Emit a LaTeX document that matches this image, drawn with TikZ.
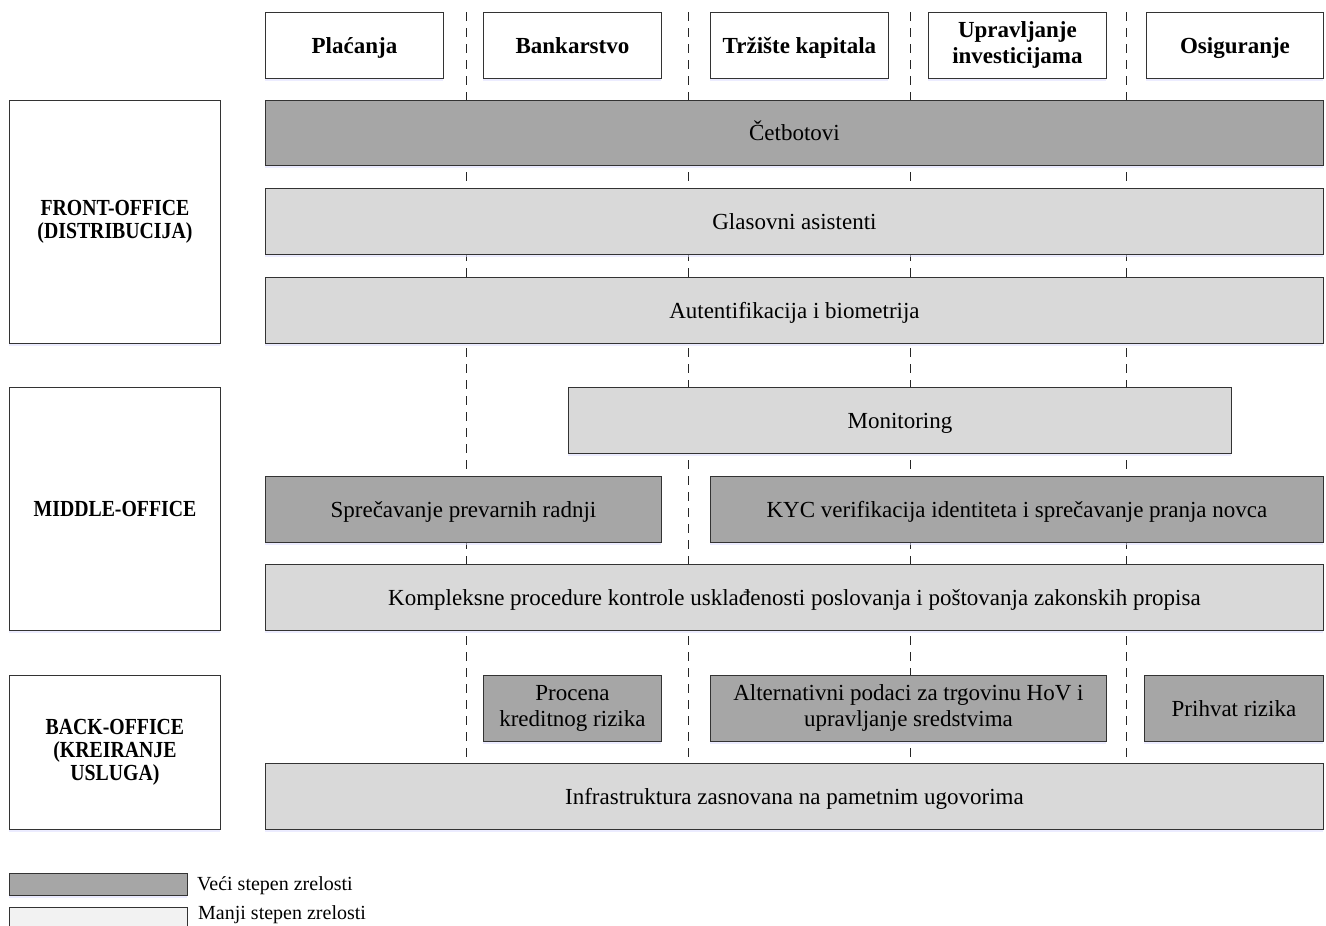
\documentclass[tikz,border=0pt]{standalone}
\usepackage{fontspec}
\setmainfont{Liberation Serif}
\newfontfamily\condserif[FakeStretch=0.86]{Liberation Serif}
\usetikzlibrary{shadows}
\begin{document}
\begin{tikzpicture}[x=1pt,y=-1pt,
  box/.style={draw=black!80,line width=0.9pt,inner sep=0pt,align=center,
    anchor=north west,font=\fontsize{23}{26}\selectfont,
    drop shadow={shadow xshift=0pt,shadow yshift=-2.5pt,fill=blue!12!white,opacity=0.6}},
  one/.style={text height=15.2pt,text depth=0pt},
  dark/.style={box,fill=darkfill},
  light/.style={box,fill=lightfill},
  head/.style={box,fill=white,font=\fontsize{23}{26}\selectfont\bfseries},
  rowlabel/.style={box,fill=white,font=\fontsize{23}{23}\selectfont\condserif\bfseries},
  legendtext/.style={anchor=west,inner sep=0pt,font=\fontsize{20}{22}\selectfont},
  sep/.style={draw=black!85,line width=1pt,dash pattern=on 9pt off 7pt}]
\definecolor{darkfill}{HTML}{A6A6A6}
\definecolor{lightfill}{HTML}{D9D9D9}
\definecolor{legendlight}{HTML}{F2F2F2}
\useasboundingbox (0,0) rectangle (1326,926);
% column separators
\foreach \x/\n in {466/a,688/b,910/c,1126/d}{
  \coordinate (t\n) at (\x,12);
  \coordinate (b\n) at (\x,763);
  \draw[sep] (t\n) -- (b\n);
}
% column headers
\node[head,one,minimum width=178pt,minimum height=66pt] (h1) at (265,12) {Plaćanja};
\node[head,one,minimum width=178pt,minimum height=66pt] (h2) at (483,12) {Bankarstvo};
\node[head,one,minimum width=178pt,minimum height=66pt] (h3) at (710,12) {Tržište kapitala};
\node[head,minimum width=178pt,minimum height=66pt] (h4) at (928,12) {Upravljanje\\investicijama};
\node[head,one,minimum width=177pt,minimum height=66pt] (h5) at (1146,12) {Osiguranje};
% row labels
\node[rowlabel,minimum width=211pt,minimum height=243pt] (front) at (9,100) {FRONT-OFFICE\\(DISTRIBUCIJA)};
\node[rowlabel,one,minimum width=211pt,minimum height=243pt] (middle) at (9,387) {MIDDLE-OFFICE};
\node[rowlabel,minimum width=211pt,minimum height=154pt] (back) at (9,675) {BACK-OFFICE\\(KREIRANJE\\USLUGA)};
% front-office
\node[dark,one,minimum width=1058pt,minimum height=65pt] (cet) at (265,100) {Četbotovi};
\node[light,one,minimum width=1058pt,minimum height=66pt] (glas) at (265,188) {Glasovni asistenti};
\node[light,one,minimum width=1058pt,minimum height=66pt] (aut) at (265,277) {Autentifikacija i biometrija};
% middle-office
\node[light,one,minimum width=663pt,minimum height=66pt] (mon) at (568,387) {Monitoring};
\node[dark,one,minimum width=396pt,minimum height=66pt] (spr) at (265,476) {Sprečavanje prevarnih radnji};
\node[dark,one,minimum width=613pt,minimum height=66pt] (kyc) at (710,476) {KYC verifikacija identiteta i sprečavanje pranja novca};
\node[light,one,minimum width=1058pt,minimum height=66pt] (komp) at (265,564) {Kompleksne procedure kontrole usklađenosti poslovanja i poštovanja zakonskih propisa};
% back-office
\node[dark,minimum width=178pt,minimum height=66pt] (proc) at (483,675) {Procena\\kreditnog rizika};
\node[dark,minimum width=396pt,minimum height=66pt] (alt) at (710,675) {Alternativni podaci za trgovinu HoV i\\upravljanje sredstvima};
\node[dark,one,minimum width=179pt,minimum height=66pt] (prih) at (1144,675) {Prihvat rizika};
\node[light,one,minimum width=1058pt,minimum height=66pt] (infra) at (265,763) {Infrastruktura zasnovana na pametnim ugovorima};
% legend
\node[dark,minimum width=178pt,minimum height=22pt] (lg1) at (9,873) {};
\node[box,fill=legendlight,minimum width=178pt,minimum height=22pt] (lg2) at (9,907) {};
\node[legendtext] (lt1) at (197,886) {Veći stepen zrelosti};
\node[legendtext] (lt2) at (198,915) {Manji stepen zrelosti};
\end{tikzpicture}
\end{document}
